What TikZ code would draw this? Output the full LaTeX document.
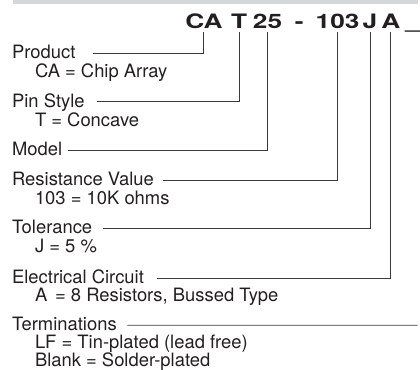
\documentclass[tikz,border=0pt]{standalone}
\usepackage{fontspec}
\setmainfont{TeX Gyre Heros}
\usepackage{graphicx}
\definecolor{ink}  {HTML}{231F20}
\definecolor{rule} {HTML}{D5D8DA}
\definecolor{wire} {HTML}{3A3A3A}
\newcommand{\wide}[1]{\scalebox{1.32}[1]{#1}}

\begin{document}
\begin{tikzpicture}[x=1bp,y=1bp,
    code/.style={anchor=base,font=\fontsize{20bp}{22bp}\selectfont\bfseries,
                 text=ink,inner xsep=0pt,inner ysep=3.5bp,text depth=0pt},
    lbl/.style ={anchor=base west,font=\fontsize{18.5bp}{20bp}\selectfont,
                 text=ink,inner sep=0pt,text height=11bp,text depth=0pt},
    lead/.style={draw=wire,line width=0.8bp},
  ]

% fixed bounding box -> same proportions as the scan
\path (0,0) rectangle (420,-372);

% ---- header rule -----------------------------------------------------------
\fill[rule] (13,0) rectangle (420,-4);

% ---- part number -----------------------------------------------------------
\node[code] (cCA)   at (205,-28.3)   {\wide{CA}};
\node[code] (cT)    at (240.5,-28.3) {\wide{T}};
\node[code] (c25)   at (269,-28.3)   {\wide{25}};
\node[code] (cDash) at (301,-28.3)   {\wide{-}};
\node[code] (c103)  at (339.5,-28.3) {\wide{103}};
\node[code] (cJ)    at (372,-28.3)   {\wide{J}};
\node[code] (cA)    at (393,-28.3)   {\wide{A}};
\node[code] (cLead) at (415,-28.3)   {\wide{\_}};

% ---- field labels ----------------------------------------------------------
\node[lbl] (lProduct) at (12,-58.7)  {Product};
\node[lbl] (sProduct) at (35,-78)    {CA = Chip Array};

\node[lbl] (lPin)     at (12,-107.7) {Pin Style};
\node[lbl] (sPin)     at (35,-126.7) {T = Concave};

\node[lbl] (lModel)   at (12,-156.3) {Model};

\node[lbl] (lRes)     at (12,-187)   {Resistance Value};
\node[lbl] (sRes)     at (35,-205.7) {103 = 10K ohms};

\node[lbl] (lTol)     at (12,-235)   {Tolerance};
\node[lbl] (sTol)     at (35,-254)   {J = 5 \%};

\node[lbl] (lElec)    at (12,-285)   {Electrical Circuit};
\node[lbl] (sElec)    at (35,-303.5) {A\hspace{0.15em} = 8 Resistors, Bussed Type};

\node[lbl] (lTerm)    at (12,-332.5) {Terminations};
\node[lbl] (sTerm)    at (35,-350.3) {LF = Tin-plated (lead free)};
\node[lbl] (sBlank)   at (35,-368.3) {Blank = Solder-plated};

% ---- leaders ---------------------------------------------------------------
\foreach \c/\l/\x in {cCA/lProduct/94, cT/lPin/98, c25/lModel/68,
                      c103/lRes/164, cJ/lTol/104, cA/lElec/158}
  \draw[lead] (\c.south) |- (\l.east -| \x,0);

\coordinate (eTerm) at (420,-327);
\draw[lead] (lTerm.east -| 128,0) -- (eTerm);

\end{tikzpicture}
\end{document}
